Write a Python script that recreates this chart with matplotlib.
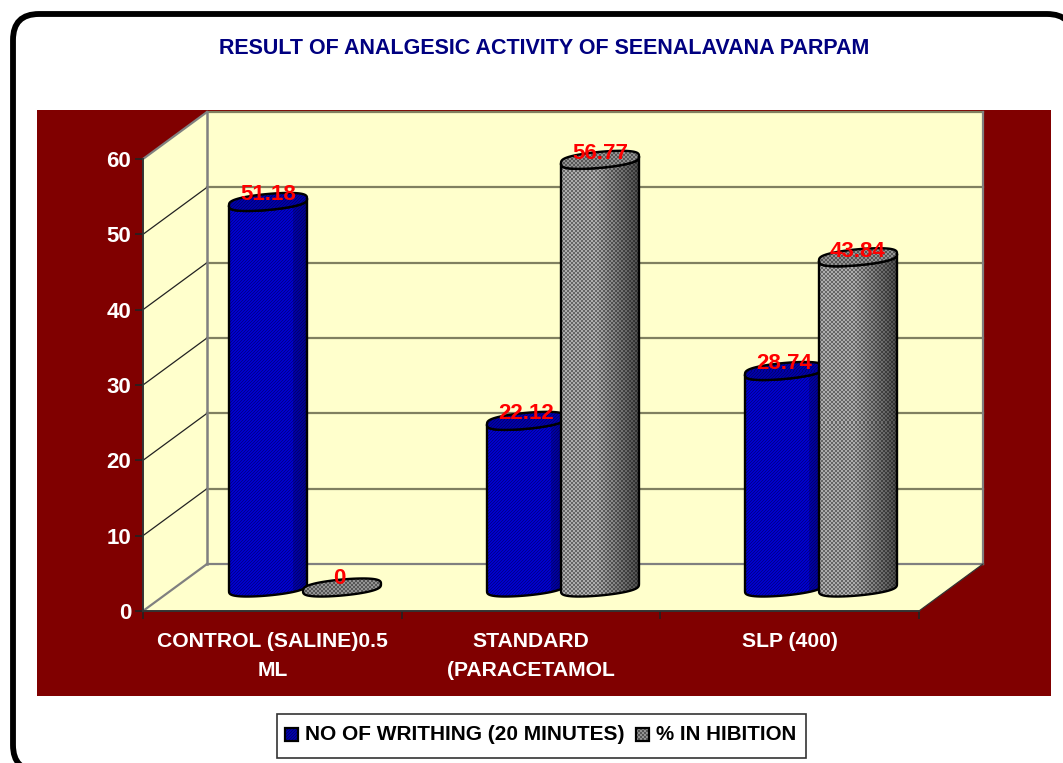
import numpy as np
import matplotlib
matplotlib.use("Agg")
import matplotlib.pyplot as plt
from matplotlib.patches import Rectangle, FancyBboxPatch, Polygon

plt.rcParams['font.family'] = ['Liberation Sans', 'DejaVu Sans']

categories = ["CONTROL (SALINE)0.5\nML", "STANDARD\n(PARACETAMOL", "SLP (400)"]
writhing = [51.18, 22.12, 28.74]
inhibition = [0, 56.77, 43.84]
series_names = ["NO OF WRITHING (20 MINUTES)", "% IN HIBITION"]
y_ticks = [0, 10, 20, 30, 40, 50, 60]
title = "RESULT OF ANALGESIC ACTIVITY OF SEENALAVANA PARPAM"

W, H = 1063, 763
MAROON = "#800000"
CREAM = "#ffffcc"

fig = plt.figure(figsize=(W / 100, H / 100), dpi=100, facecolor="white")


def texture(w, h, kind, flat=False):
    # per-pixel shaded fill, dark toward the right side
    yy, xx = np.mgrid[0:h, 0:w]
    u = xx / max(w - 1, 1)
    if kind == "blue":
        stripe = ((xx + yy) % 3 == 0)
        shade = np.where(u < 0.83, 1.0, 0.82 - (u - 0.83) * 0.8)
        if flat:
            shade = np.full_like(u, 0.82)
        b = (0.80 - 0.24 * stripe) * shade
        return np.dstack([np.zeros_like(b), np.zeros_like(b), b])
    check = ((xx // 2 + yy // 2) % 2 == 0)
    shade = np.where(u < 0.45, 1.0, 1.0 - (u - 0.45) * 1.0)
    if flat:
        shade = np.full_like(u, 0.85)
    g = (0.68 - 0.28 * check) * shade
    return np.dstack([g, g, g])


# page layer in pixels, y going down
bg = fig.add_axes([0, 0, 1, 1])
bg.set_xlim(0, W)
bg.set_ylim(H, 0)
bg.axis("off")
bg.add_patch(FancyBboxPatch((13, 14), 1060, 757, boxstyle="round,pad=0,rounding_size=26",
                            fc="white", ec="black", lw=4.2))
bg.add_patch(Rectangle((37, 110), 1014, 586, fc=MAROON, ec="none"))
bg.text(544, 49, title, color="#000080", fontsize=15.5, fontweight="bold", ha="center", va="center")

# front plane of the 3d box
left, right, top, bottom = 143, 919, 159, 611
ax = fig.add_axes([left / W, 1 - bottom / H, (right - left) / W, (bottom - top) / H])
ax.patch.set_alpha(0)
ax.set_xlim(0, 3)
ax.set_ylim(0, 60)
for s in ["top", "right"]:
    ax.spines[s].set_visible(False)
for s in ["left", "bottom"]:
    ax.spines[s].set_color("#333333")
    ax.spines[s].set_linewidth(1.4)

px_x = 3 / (right - left)
px_y = 60 / (bottom - top)
DX = 64 * px_x   # depth of the box
DY = 47 * px_y


def face(pts, **kw):
    ax.add_patch(Polygon(pts, closed=True, clip_on=False, **kw))


# walls and floor
face([(0, 0), (DX, DY), (3 + DX, DY), (3, 0)], fc=CREAM, ec="none", zorder=0)
face([(0, 0), (DX, DY), (DX, 60 + DY), (0, 60)], fc=CREAM, ec="none", zorder=0)
face([(DX, DY), (3 + DX, DY), (3 + DX, 60 + DY), (DX, 60 + DY)], fc=CREAM, ec="none", zorder=0)

for v in y_ticks:
    if v > 0:
        ax.plot([DX, 3 + DX], [v + DY, v + DY], color="#808060", lw=1.6, clip_on=False, zorder=1)
    if 0 < v < 60:
        ax.plot([0, DX], [v, v + DY], color="#222222", lw=0.9, clip_on=False, zorder=1)
edge = "#808080"
ax.plot([DX, DX], [DY, 60 + DY], color=edge, lw=1.8, clip_on=False, zorder=1)
ax.plot([0, DX], [60, 60 + DY], color=edge, lw=1.6, clip_on=False, zorder=1)
ax.plot([0, DX], [0, DY], color=edge, lw=1.6, clip_on=False, zorder=1)
ax.plot([DX, 3 + DX], [DY, DY], color=edge, lw=1.6, clip_on=False, zorder=1)
ax.plot([3 + DX, 3 + DX], [DY, 60 + DY], color=edge, lw=1.6, clip_on=False, zorder=1)
ax.plot([3, 3 + DX], [0, DY], color="#333333", lw=0.9, clip_on=False, zorder=1)

ax.set_yticks(y_ticks)
ax.set_yticklabels([str(v) for v in y_ticks], color="white", fontsize=16, fontweight="bold")
ax.set_xticks([0, 1, 2, 3])
ax.set_xticklabels([])
ax.set_xticks([0.5, 1.5, 2.5], minor=True)
ax.set_xticklabels(categories, minor=True, color="white", fontsize=15.2, fontweight="bold", linespacing=1.65)
ax.tick_params(axis="y", length=5.5, width=1.2, color="#222222", pad=3)
ax.tick_params(axis="x", which="major", length=6, width=1.2, color="#222222", direction="out")
ax.tick_params(axis="x", which="minor", length=0, pad=15)


def rim(t):
    # lumpy tilted ellipse, same shape at the base and the top
    x = 39 * px_x * np.cos(t)
    s = np.sin(t)
    y = 3.5 * px_y * np.cos(t) + 8 * px_y * np.sign(s) * np.abs(s) ** 0.65
    return x, y


def textured(pts, box, kind, z, flat=False):
    x0, x1, y0, y1 = box
    w = int(round((x1 - x0) / px_x))
    h = int(round((y1 - y0) / px_y))
    im = ax.imshow(texture(w, h, kind, flat), origin="upper", extent=box,
                   aspect="auto", interpolation="nearest", zorder=z)
    # tops of the tallest bars stick out of the axes box
    im.set_clip_box(fig.bbox)
    im.set_clip_path(Polygon(pts, closed=True, transform=ax.transData))
    ax.add_patch(Polygon(pts, closed=True, fc="none", ec="black", lw=1.7, clip_on=False, zorder=z + 0.1))


def cylinder(x0, value, kind, z):
    # x0 is the left edge in px from the front plane, base sits half way into the box
    a = 39 * px_x
    cx = x0 * px_x + a
    base = DY / 2
    t_front = np.linspace(np.pi, 2 * np.pi, 40)
    fx, fy = rim(t_front)
    margin = 12 * px_y
    if value > 0:
        body = list(zip(cx + fx, base + fy)) + list(zip((cx + fx)[::-1], (value + base + fy)[::-1]))
        textured(body, (cx - a, cx + a, base - margin, value + base + margin), kind, z)
    t = np.linspace(0, 2 * np.pi, 80)
    rx, ry = rim(t)
    cap = list(zip(cx + rx, value + base + ry))
    textured(cap, (cx - a, cx + a, value + base - margin, value + base + margin), kind, z + 0.2, flat=True)
    return cx, value + base


x_left_blue = [86, 344, 602]
x_left_gray = [160, 418, 676]
for i in range(3):
    cx, ty = cylinder(x_left_blue[i], writhing[i], "blue", 2 + i)
    ax.text(cx, ty + 7 * px_y, f"{writhing[i]:g}", color="red", fontsize=16,
            fontweight="bold", ha="center", va="center", zorder=9)
for i in range(3):
    cx, ty = cylinder(x_left_gray[i], inhibition[i], "gray", 5.5 + i)
    off = 9 if inhibition[i] == 0 else 6
    shift = 3 if inhibition[i] == 0 else 0
    ax.text(cx - shift * px_x, ty + off * px_y, f"{inhibition[i]:g}", color="red", fontsize=16,
            fontweight="bold", ha="center", va="center", zorder=9)

ax.set_xlim(0, 3)
ax.set_ylim(0, 60)

# legend, drawn by hand since the box holds textured swatches
bg.add_patch(Rectangle((277, 714), 529, 44, fc="white", ec="#333333", lw=1.2))
bg.imshow(texture(13, 13, "blue", flat=True), extent=(285, 298, 741, 728), aspect="auto",
          interpolation="nearest", zorder=3)
bg.imshow(texture(13, 13, "gray", flat=True), extent=(636, 649, 741, 728), aspect="auto",
          interpolation="nearest", zorder=3)
bg.add_patch(Rectangle((285, 728), 13, 13, fc="none", ec="black", lw=1.6, zorder=4))
bg.add_patch(Rectangle((636, 728), 13, 13, fc="none", ec="black", lw=1.6, zorder=4))
bg.text(305, 734, series_names[0], fontsize=15, fontweight="bold", va="center", ha="left")
bg.text(656, 734, series_names[1], fontsize=14.8, fontweight="bold", va="center", ha="left")
bg.set_xlim(0, W)
bg.set_ylim(H, 0)

fig.savefig("out.png", dpi=100)
